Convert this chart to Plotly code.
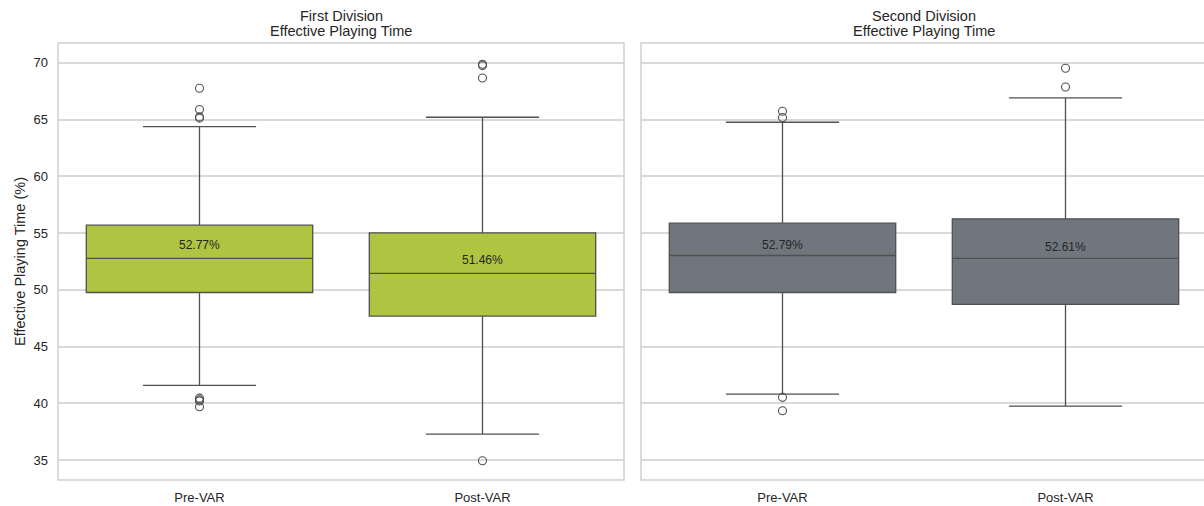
import plotly.graph_objects as go

# Categories and panels
categories = ["Pre-VAR", "Post-VAR"]
panel_titles = ["First Division", "Second Division"]
subtitle = "Effective Playing Time"

# Box statistics per division (Pre-VAR, Post-VAR)
first_q1 = [49.76, 47.68]
first_median = [52.76, 51.44]
first_q3 = [55.69, 55.01]
first_lower = [41.57, 37.29]
first_upper = [64.38, 65.20]
first_mean = [52.77, 51.46]
first_outliers_pre = [67.75, 65.88, 65.23, 65.12, 40.45, 40.30, 40.20, 39.69]
first_outliers_post = [69.87, 69.75, 68.66, 34.94]

second_q1 = [49.76, 48.71]
second_median = [53.02, 52.76]
second_q3 = [55.87, 56.25]
second_lower = [40.81, 39.75]
second_upper = [64.76, 66.90]
second_mean = [52.79, 52.61]
second_outliers_pre = [65.73, 65.17, 40.52, 39.34]
second_outliers_post = [69.52, 67.87]

W, H = 1204, 506
FONT = "Liberation Sans, Arial, sans-serif"
TEXT = "#262626"
GRID = "#d9d9d9"
FRAME = "#cfcfcf"
EDGE = "#505050"

panels = [
    dict(q1=first_q1, med=first_median, q3=first_q3, lo=first_lower, hi=first_upper,
         mean=first_mean, outs=[first_outliers_pre, first_outliers_post], fill="#afc440",
         xa="x", ya="y"),
    dict(q1=second_q1, med=second_median, q3=second_q3, lo=second_lower, hi=second_upper,
         mean=second_mean, outs=[second_outliers_pre, second_outliers_post], fill="#6f767e",
         xa="x2", ya="y2"),
]

fig = go.Figure()
positions = list(range(len(categories)))

for p in panels:
    fig.add_trace(go.Box(
        x=positions, q1=p["q1"], median=p["med"], q3=p["q3"],
        lowerfence=p["lo"], upperfence=p["hi"],
        width=0.8, whiskerwidth=0.5, boxpoints=False,
        fillcolor=p["fill"], line=dict(color=EDGE, width=1.3),
        xaxis=p["xa"], yaxis=p["ya"], showlegend=False, hoverinfo="skip",
    ))
    for i, outs in enumerate(p["outs"]):
        fig.add_trace(go.Scatter(
            x=[positions[i]] * len(outs), y=outs, mode="markers",
            marker=dict(symbol="circle-open", size=8, color=EDGE, line=dict(width=1.1)),
            xaxis=p["xa"], yaxis=p["ya"], showlegend=False, hoverinfo="skip",
        ))
    for i, m in enumerate(p["mean"]):
        fig.add_annotation(
            x=positions[i], y=m, xref=p["xa"], yref=p["ya"],
            text=f"{m:.2f}%", showarrow=False, yanchor="middle", yshift=13,
            font=dict(family=FONT, size=12, color=TEXT),
        )

# Panel geometry (paper fractions)
x_dom1 = [58 / W, 624 / W]
x_dom2 = [641 / W, 1.0]
y_dom = [(H - 480) / H, (H - 43) / H]
y_range = [33.24, 71.74]
span2 = (W - 641) / ((624 - 58) / 2.0)

axis_common = dict(
    zeroline=False, showline=False, ticks="",
    tickfont=dict(family=FONT, size=13, color=TEXT), automargin=False,
)

fig.update_layout(
    width=W, height=H,
    margin=dict(l=0, r=0, t=0, b=0),
    paper_bgcolor="white", plot_bgcolor="white",
    xaxis=dict(domain=x_dom1, range=[-0.5, 1.5], tickvals=positions, ticktext=categories,
               anchor="y", ticklabelstandoff=8, showgrid=False, **axis_common),
    xaxis2=dict(domain=x_dom2, range=[-0.5, -0.5 + span2], tickvals=positions,
                ticktext=categories, anchor="y2", ticklabelstandoff=8, showgrid=False,
                **axis_common),
    yaxis=dict(domain=y_dom, range=y_range, tickvals=list(range(35, 71, 5)),
               showgrid=True, gridcolor=GRID, gridwidth=1.5, anchor="x",
               ticklabelstandoff=9,
               title=dict(text="Effective Playing Time (%)",
                          font=dict(family=FONT, size=14.5, color=TEXT), standoff=4),
               **axis_common),
    yaxis2=dict(domain=y_dom, range=y_range, tickvals=list(range(35, 71, 5)),
                showgrid=True, gridcolor=GRID, gridwidth=1.5, anchor="x2",
                showticklabels=False, matches="y", **axis_common),
)

# Panel frames
for xd, x1 in ((x_dom1, x_dom1[1]), (x_dom2, 1.01)):
    fig.add_shape(type="rect", xref="paper", yref="paper",
                  x0=xd[0], x1=x1, y0=y_dom[0], y1=y_dom[1],
                  line=dict(color=FRAME, width=1.5), fillcolor="rgba(0,0,0,0)", layer="above")

# Panel titles (two lines each)
panel_w = (624 - 58) / W
for xd, name in ((x_dom1, panel_titles[0]), (x_dom2, panel_titles[1])):
    cx = xd[0] + panel_w / 2
    for line_text, ypx in ((name, 16), (subtitle, 31.5)):
        fig.add_annotation(
            x=cx, y=(H - ypx) / H, xref="paper", yref="paper",
            text=line_text, showarrow=False, xanchor="center", yanchor="middle",
            font=dict(family=FONT, size=14.5, color=TEXT),
        )

fig.write_html("out.html")
